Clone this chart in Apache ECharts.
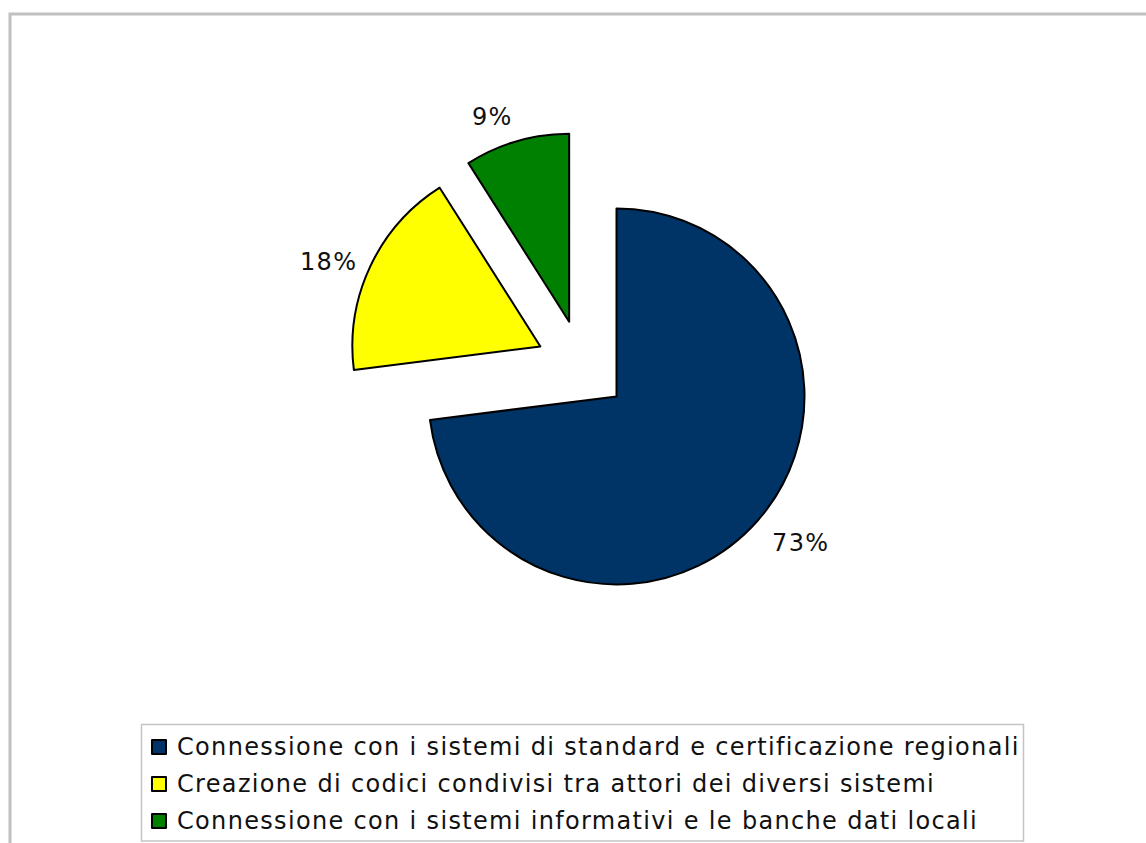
<!DOCTYPE html>
<html>
<head>
<meta charset="utf-8">
<style>
  html, body { margin: 0; padding: 0; background: #ffffff; }
  #chart { width: 1146px; height: 843px; }
  /* slightly tracked lettering for every label of the chart */
  #chart text { letter-spacing: 1.33px; }
</style>
<script src="https://cdn.jsdelivr.net/npm/echarts@6/dist/echarts.min.js"></script>
</head>
<body>
<div id="chart"></div>
<script>
// Categories and their shares (percent)
const categories = [
  'Connessione con i sistemi di standard e certificazione regionali',
  'Creazione di codici condivisi tra attori dei diversi sistemi',
  'Connessione con i sistemi informativi e le banche dati locali'
];
const shares = [73, 18, 9];

// Slice fills, in the same order as the categories
const sliceColors = ['#003366', '#FFFF00', '#008000'];

// Per-slice placement of the percentage labels outside the pie
const labelPlacement = [
  { lineLength: 34, distance: -11 },
  { lineLength: 11, distance: 3 },
  { lineLength: 25, distance: -3 }
];

const FONT = '"DejaVu Sans", Verdana, sans-serif';

const chart = echarts.init(document.getElementById('chart'), null, { renderer: 'svg' });

const pieData = categories.map((name, i) => ({
  name: name,
  value: shares[i],
  selected: true,
  itemStyle: { color: sliceColors[i] },
  labelLine: { show: false, length: labelPlacement[i].lineLength, length2: 0 },
  label: { distanceToLabelLine: labelPlacement[i].distance }
}));

chart.setOption({
  backgroundColor: '#ffffff',
  animation: false,
  graphic: [
    {
      // outer frame of the chart area
      type: 'rect',
      z: 0,
      shape: { x: 10, y: 14, width: 1300, height: 1000 },
      style: { fill: 'none', stroke: '#c0c0c0', lineWidth: 3 }
    },
    {
      // box around the legend
      type: 'rect',
      z: 0,
      shape: { x: 141.5, y: 724.5, width: 882, height: 116.5 },
      style: { fill: 'none', stroke: '#c4c4c4', lineWidth: 1.5 }
    }
  ],
  legend: {
    orient: 'vertical',
    left: 151,
    top: 735,
    padding: 0,
    itemGap: 13,
    itemWidth: 14,
    itemHeight: 14,
    icon: 'rect',
    selectedMode: false,
    itemStyle: { borderColor: '#000000', borderWidth: 2 },
    textStyle: {
      fontFamily: FONT,
      fontSize: 24,
      lineHeight: 24,
      color: '#111111',
      padding: [0, 0, 0, 6]
    },
    data: categories
  },
  series: [
    {
      type: 'pie',
      center: [582, 366],
      radius: 188,
      startAngle: 90,
      clockwise: true,
      selectedMode: 'multiple',
      selectedOffset: 46,
      avoidLabelOverlap: false,
      silent: true,
      emphasis: { disabled: true },
      itemStyle: { borderColor: '#000000', borderWidth: 2 },
      select: { itemStyle: { borderColor: '#000000', borderWidth: 2 } },
      label: {
        show: true,
        position: 'outside',
        formatter: '{c}%',
        fontFamily: FONT,
        fontSize: 24,
        color: '#111111'
      },
      labelLine: { show: false },
      data: pieData
    }
  ]
});
</script>
</body>
</html>
